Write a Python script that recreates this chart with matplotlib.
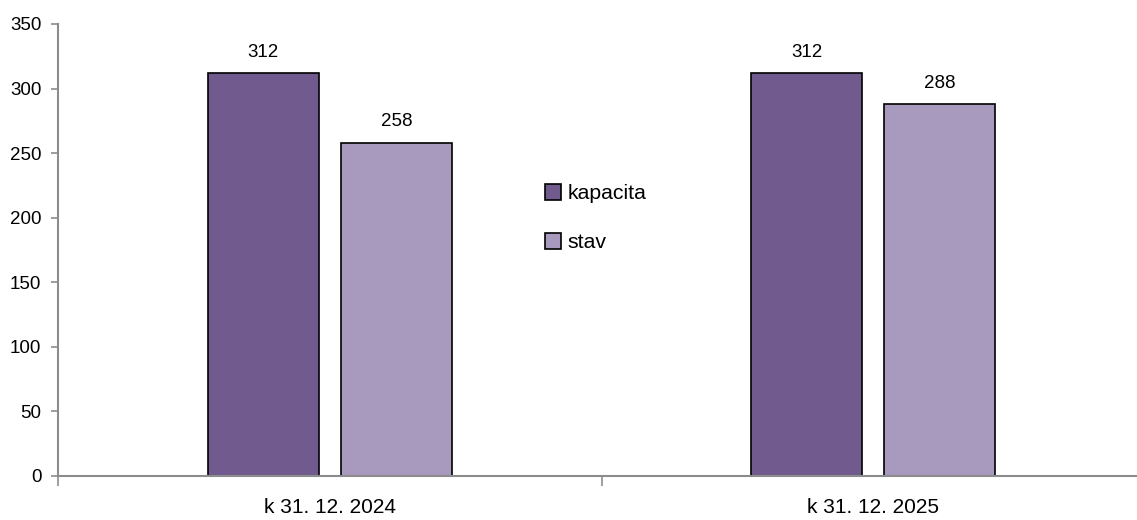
#!/usr/bin/env python3
import matplotlib
matplotlib.use("Agg")
import matplotlib.pyplot as plt
import numpy as np

categories = ["k 31. 12. 2024", "k 31. 12. 2025"]
kapacita = [312, 312]
stav = [258, 288]
series_names = ["kapacita", "stav"]

plt.rcParams['font.family'] = ['Liberation Sans', 'DejaVu Sans']

fig = plt.figure(figsize=(11.37, 5.2), dpi=100)
ax = fig.add_axes([58 / 1137, 1 - 476 / 520, 1087 / 1137, (476 - 24) / 520])

x = np.arange(len(categories))
w = 0.204
off = 0.1225
b1 = ax.bar(x - off, kapacita, width=w, color='#705a8e', edgecolor='black', linewidth=1.2, label=series_names[0])
b2 = ax.bar(x + off, stav, width=w, color='#a899bf', edgecolor='black', linewidth=1.2, label=series_names[1])

for bars in (b1, b2):
    for r in bars:
        ax.annotate(str(int(r.get_height())), (r.get_x() + r.get_width() / 2, r.get_height()),
                    xytext=(0, 9), textcoords='offset points', ha='center', va='bottom', fontsize=13.5)

ax.set_xlim(-0.5, 1.5)
ax.set_ylim(0, 350)
ax.set_yticks(range(0, 351, 50))
ax.set_xticks([-0.5, 0.5, 1.5])
ax.set_xticklabels([])
ax.set_xticks(x, minor=True)
ax.set_xticklabels(categories, minor=True, fontsize=15)
ax.tick_params(axis='x', which='minor', length=0, pad=16)
ax.tick_params(axis='x', which='major', length=7, color='#8c8c8c', width=1.2)
ax.tick_params(axis='y', length=5, color='#8c8c8c', width=1.2, labelsize=13.5, pad=7)

for s in ['top', 'right']:
    ax.spines[s].set_visible(False)
for s in ['left', 'bottom']:
    ax.spines[s].set_color('#8c8c8c')
    ax.spines[s].set_linewidth(1.5)

ax.legend(loc='upper left', bbox_to_anchor=(487 / 1087, 1 - (184 - 24) / 452), frameon=False,
          fontsize=15.3, handlelength=0.75, handleheight=0.75, handletextpad=0.3, labelspacing=1.4,
          borderaxespad=0, borderpad=0)

fig.savefig("out.png", dpi=100)
